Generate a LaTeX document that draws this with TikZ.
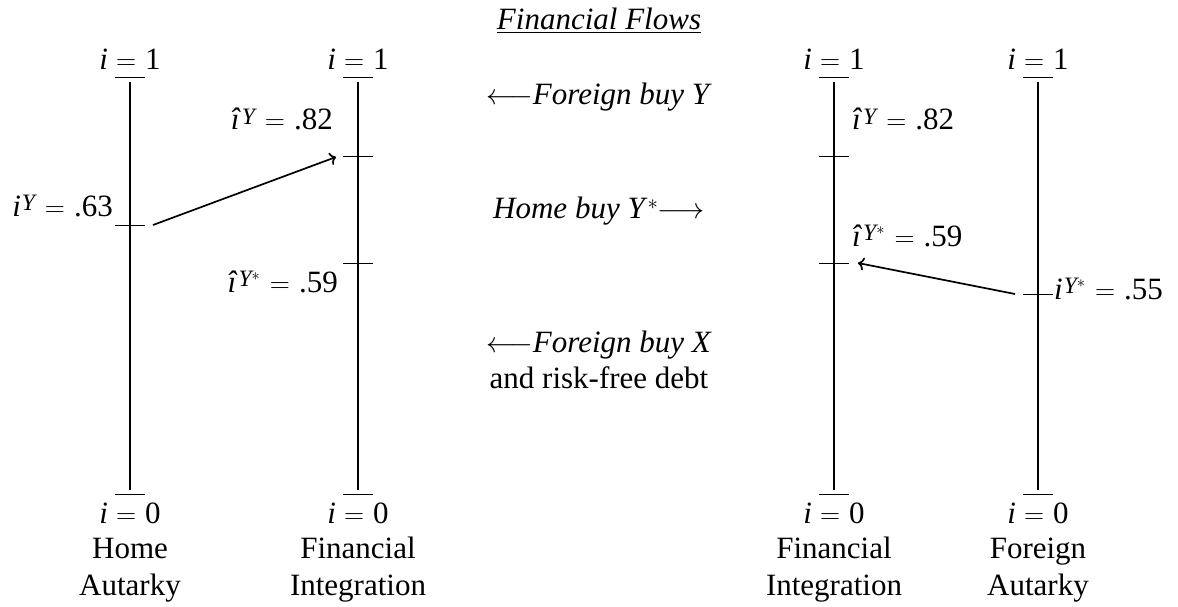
\documentclass[tikz,border=0pt]{standalone}
\usepackage[no-math]{fontspec}
\setmainfont{Liberation Serif}
\usetikzlibrary{arrows.meta}
\newcommand\mysup[1]{\kern1pt\raisebox{5.5pt}{\fontsize{23.5}{23.5}\selectfont\itshape #1}\kern2pt}
\newcommand\mystar{\raisebox{6.5pt}{\scalebox{0.8}{\fontsize{20.74}{24}\selectfont$\ast$}}}
\newcommand\ysup{\mysup{Y}}
\newcommand\ystarsup{\mysup{Y\mystar}}
\newcommand\eq{\kern8pt\scalebox{1.12}{\fontsize{24.88}{30}\selectfont$=$}\kern9pt}
\newcommand\lla{\scalebox{1.17}{\fontsize{24.88}{30}\selectfont$\longleftarrow$}}
\newcommand\lra{\scalebox{1.17}{\fontsize{24.88}{30}\selectfont$\longrightarrow$}}
\begin{document}
\begin{tikzpicture}[x=1pt,y=-1pt,
  lab/.style={inner sep=0pt,font=\fontsize{31}{37}\selectfont},
  axis/.style={line width=1.9pt},
  tick/.style={line width=1pt},
  flow/.style={line width=1.7pt,-{To[length=6pt,width=13pt]}}]
\useasboundingbox (0,0) rectangle (1178,607);
% axes
\foreach \n/\x in {a/130,b/358,c/834,d/1038}{
  \coordinate (\n top) at (\x,82);
  \coordinate (\n bot) at (\x,490);
  \draw[axis] (\n top) -- (\n bot);
  \draw[tick] (\x-15,78) -- (\x+15,78);
  \draw[tick] (\x-15,494) -- (\x+15,494);
  \node[lab,anchor=base] (\n one) at (\x,70) {\textit{i}\eq 1};
  \node[lab,anchor=base] (\n zero) at (\x,523) {\textit{i}\eq 0};
}
% ticks
\draw[tick] (115,225) -- (145,225);
\draw[tick] (343,157) -- (373,157);
\draw[tick] (343,263) -- (373,263);
\draw[tick] (819,157) -- (849,157);
\draw[tick] (819,263) -- (849,263);
\draw[tick] (1023,294) -- (1053,294);
% bottom names
\node[lab,anchor=base] (aname1) at (130,558) {Home};
\node[lab,anchor=base] (aname2) at (130,595) {Autarky};
\node[lab,anchor=base] (bname1) at (358,558) {Financial};
\node[lab,anchor=base] (bname2) at (358,595) {Integration};
\node[lab,anchor=base] (cname1) at (834,558) {Financial};
\node[lab,anchor=base] (cname2) at (834,595) {Integration};
\node[lab,anchor=base] (dname1) at (1038,558) {Foreign};
\node[lab,anchor=base] (dname2) at (1038,595) {Autarky};
% value labels
\node[lab,anchor=base east] (ha) at (113,216) {\textit{i}\ysup\eq .63};
\node[lab,anchor=base east] (hb1) at (333,130) {\textit{î}\ysup\eq .82};
\node[lab,anchor=base east] (hb2) at (338,292) {\textit{î}\ystarsup\eq .59};
\node[lab,anchor=base west] (fc1) at (852,130) {\textit{î}\ysup\eq .82};
\node[lab,anchor=base west] (fc2) at (852,246) {\textit{î}\ystarsup\eq .59};
\node[lab,anchor=base west] (fd) at (1054,299) {\textit{i}\ystarsup\eq .55};
% center texts
\node[lab,anchor=base] (title) at (599,30) {\underline{\textit{Financial Flows}}};
\node[lab,anchor=base] (flow1) at (599,105) {\lla\textit{Foreign buy Y}};
\node[lab,anchor=base] (flow2) at (599,218) {\textit{Home buy Y}\raisebox{9pt}{\fontsize{20.74}{24}\selectfont$\ast$}\lra};
\node[lab,anchor=base] (flow3) at (599,352) {\lla\textit{Foreign buy X}};
\node[lab,anchor=base] (flow4) at (599,388) {and risk-free debt};
% arrows
\coordinate (s1) at (153,225);
\coordinate (e1) at (336,157);
\coordinate (s2) at (1015,294);
\coordinate (e2) at (858,263);
\draw[flow] (s1) -- (e1);
\draw[flow] (s2) -- (e2);
\end{tikzpicture}
\end{document}
